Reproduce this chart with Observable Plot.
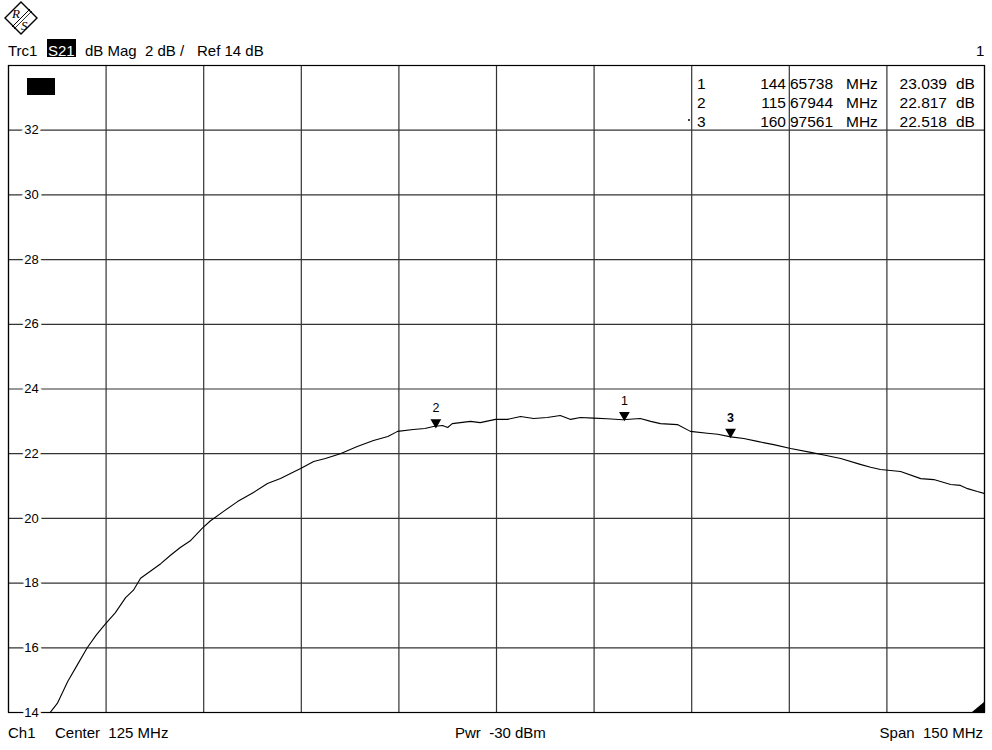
<!DOCTYPE html>
<html>
<head>
<meta charset="utf-8">
<script src="https://cdn.jsdelivr.net/npm/d3@7"></script>
<script src="https://cdn.jsdelivr.net/npm/@observablehq/plot@0.6"></script>
<style>
  html, body { margin: 0; padding: 0; background: #fff; }
  body { width: 992px; height: 750px; position: relative; overflow: hidden;
         font-family: "Liberation Sans", Arial, sans-serif; color: #000; }
  .abs { position: absolute; white-space: nowrap; line-height: 1; }
  #chart { position: absolute; left: 0; top: 64px; }
  .t15 { font-size: 15px; }
  .tbl { font-size: 15.5px; }
</style>
</head>
<body>
<!-- logo -->
<svg class="abs" style="left:2px;top:0px" width="38" height="36" viewBox="0 0 38 36">
  <polygon points="19,2 35,18 19,34 3,18" fill="#fff" stroke="#000" stroke-width="1.4"/>
  <line x1="10" y1="27" x2="28" y2="9" stroke="#000" stroke-width="1"/>
  <line x1="12" y1="29" x2="30" y2="11" stroke="#000" stroke-width="0.8"/>
  <text x="10" y="18" font-size="13" font-style="italic" font-family="Liberation Serif, serif">R</text>
  <text x="19" y="30" font-size="13" font-style="italic" font-family="Liberation Serif, serif">S</text>
</svg>
<!-- header -->
<div class="abs t15" style="left:8px;top:43px">Trc1</div>
<div class="abs" style="left:47px;top:39px;width:29px;height:18px;background:#000"></div>
<div class="abs t15" style="left:48px;top:43px;color:#fff">S21</div>
<div class="abs t15" style="left:85px;top:43px">dB Mag</div>
<div class="abs t15" style="left:145px;top:43px">2 dB /</div>
<div class="abs t15" style="left:197px;top:43px">Ref 14 dB</div>
<div class="abs t15" style="left:976px;top:43px">1</div>

<div id="chart"></div>

<!-- overlay items inside the diagram -->
<div class="abs" style="left:27px;top:78px;width:28px;height:17px;background:#000"></div>
<div class="abs" style="left:688px;top:119px;width:2px;height:2px;background:#000;border-radius:1px"></div>
<div id="table"></div>
<svg class="abs" style="left:972px;top:702px" width="12" height="10"><polygon points="12,0 12,10 0,10" fill="#000"/></svg>

<!-- footer -->
<div class="abs t15" style="left:8px;top:725px">Ch1</div>
<div class="abs t15" style="left:55px;top:725px">Center&nbsp;&nbsp;125 MHz</div>
<div class="abs t15" style="left:455px;top:725px">Pwr&nbsp;&nbsp;-30 dBm</div>
<div class="abs t15" style="right:9px;top:725px">Span&nbsp;&nbsp;150 MHz</div>

<script>
// ---- data ----
const traceFreqMHz = [56.4, 57.5, 58.3, 59.1, 60.6, 62.1, 63.5, 64.9, 66.4, 68.0, 69.2, 70.3, 71.9, 73.4, 74.9, 76.4, 77.9, 79.8, 81.0, 83.0, 85.2, 87.65, 89.8, 91.8, 93.65, 94.9, 96.9, 98.7, 101.0, 103.6, 106.1, 107.2, 108.3, 109.8, 112.2, 114.0, 115.3, 116.7, 117.5, 118.2, 121.0, 122.5, 124.85, 126.7, 128.7, 130.7, 132.8, 134.8, 136.4, 137.9, 139.9, 142.0, 144.4, 147.1, 148.7, 150.2, 152.8, 154.8, 157.4, 159.0, 161.0, 163.0, 165.1, 167.6, 170.2, 173.3, 175.5, 177.9, 180.9, 182.5, 184.0, 187.1, 190.2, 192.2, 194.8, 196.3, 197.4, 198.9, 200.0];
const traceDb = [14.00, 14.28, 14.62, 14.96, 15.48, 16.00, 16.40, 16.74, 17.08, 17.55, 17.78, 18.15, 18.38, 18.60, 18.86, 19.10, 19.30, 19.70, 19.92, 20.21, 20.52, 20.80, 21.08, 21.23, 21.42, 21.54, 21.76, 21.85, 22.00, 22.22, 22.41, 22.47, 22.53, 22.69, 22.75, 22.78, 22.84, 22.87, 22.81, 22.93, 23.00, 22.96, 23.06, 23.06, 23.15, 23.09, 23.12, 23.18, 23.06, 23.12, 23.10, 23.08, 23.05, 23.09, 23.00, 22.93, 22.90, 22.69, 22.63, 22.60, 22.52, 22.47, 22.38, 22.28, 22.16, 22.04, 21.95, 21.85, 21.67, 21.58, 21.51, 21.45, 21.23, 21.20, 21.05, 21.02, 20.92, 20.83, 20.77];

const markerIds = ["1", "2", "3"];
const markerFreqInt = ["144", "115", "160"];
const markerFreqFrac = ["65738", "67944", "97561"];
const markerFreqMHz = [144.65738, 115.67944, 160.97561];
const markerDb = [23.039, 22.817, 22.518];

const xGridMHz = [50, 65, 80, 95, 110, 125, 140, 155, 170, 185, 200];
const yGridDb = [14, 16, 18, 20, 22, 24, 26, 28, 30, 32, 34];
const yTickLabels = [14, 16, 18, 20, 22, 24, 26, 28, 30, 32];

// ---- build tables ----
const trace = traceFreqMHz.map((f, i) => ({f, db: traceDb[i]}));
const markers = markerIds.map((id, i) => ({id, f: markerFreqMHz[i], db: markerDb[i]}));

const chart = Plot.plot({
  width: 992,
  height: 660,
  marginLeft: 8,
  marginRight: 8,
  marginTop: 1,
  marginBottom: 12,
  style: {background: "transparent", fontFamily: "Liberation Sans, Arial, sans-serif", color: "#000", overflow: "visible"},
  x: {domain: [50, 200], axis: null},
  y: {domain: [14, 34], axis: null},
  marks: [
    Plot.gridX(xGridMHz, {stroke: "#333", strokeOpacity: 1, strokeWidth: 1.2}),
    Plot.gridY(yGridDb, {stroke: "#333", strokeOpacity: 1, strokeWidth: 1.2}),
    Plot.frame({stroke: "#000", strokeWidth: 1.2}),
    Plot.line(trace, {x: "f", y: "db", stroke: "#000", strokeWidth: 1.1, clip: true}),
    Plot.text(yTickLabels, {y: d => d, frameAnchor: "left", dx: 23, text: d => String(d),
      fontSize: 13, fill: "#000", stroke: "#fff", strokeWidth: 6, textAnchor: "middle"}),
    Plot.dot(markers, {x: "f", y: "db", symbol: "triangle", rotate: 180, r: 4, fill: "#000", stroke: "none", dy: -5}),
    Plot.text(markers.filter(d => d.id !== "3"), {x: "f", y: "db", text: "id", dy: -19, fontSize: 12.5, fill: "#000"}),
    Plot.text(markers.filter(d => d.id === "3"), {x: "f", y: "db", text: "id", dy: -19, fontSize: 12.5, fontWeight: "bold", fill: "#000"})
  ]
});
document.getElementById("chart").appendChild(chart);

// marker readout table (drawn over the diagram)
const tbl = document.getElementById("table");
const rowTop = [76, 95, 114];
markerIds.forEach((id, i) => {
  const add = (txt, style) => {
    const d = document.createElement("div");
    d.className = "abs tbl";
    d.style.cssText = style + `;top:${rowTop[i]}px`;
    d.textContent = txt;
    tbl.appendChild(d);
  };
  add(id, "left:697px");
  add(markerFreqInt[i], "right:" + (992 - 786) + "px");
  add(markerFreqFrac[i], "left:790px");
  add("MHz", "left:846px");
  add(markerDb[i].toFixed(3), "right:" + (992 - 947) + "px");
  add("dB", "left:956px");
});
</script>
</body>
</html>
